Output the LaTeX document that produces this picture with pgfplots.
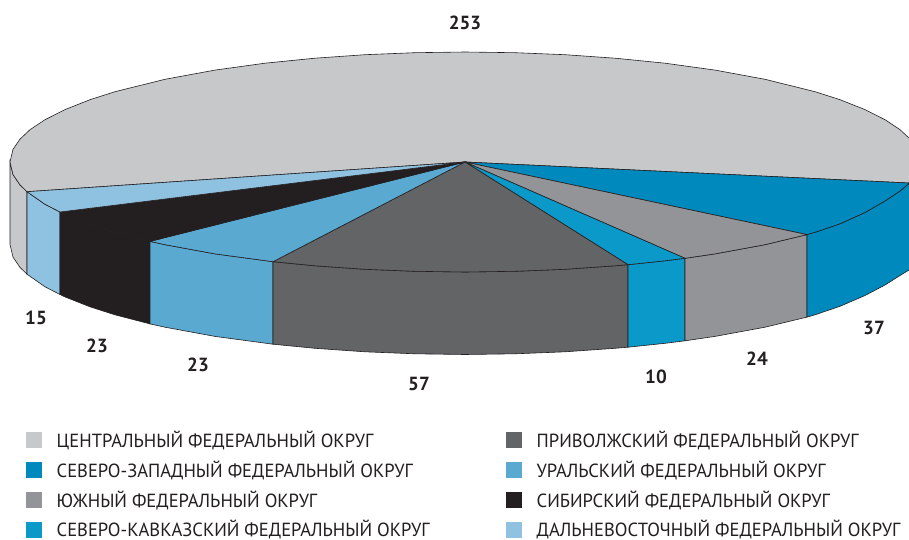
\documentclass[border=0pt]{standalone}
\usepackage{pgfplots}
\pgfplotsset{compat=1.18}
\usepackage{fontspec}
\setmainfont{PT Sans}
\newfontfamily\lf[FakeStretch=0.975]{PT Sans}
\definecolor{cC}{HTML}{C7C8CA}
\definecolor{cNW}{HTML}{0089BD}
\definecolor{cS}{HTML}{929497}
\definecolor{cNK}{HTML}{0A99C9}
\definecolor{cP}{HTML}{636466}
\definecolor{cU}{HTML}{59A9D1}
\definecolor{cSb}{HTML}{231F20}
\definecolor{cD}{HTML}{8FC1E0}
\newcommand{\lgt}[1]{{\lf\fontsize{19pt}{22pt}\selectfont #1}}
\newcommand{\vl}[1]{{\fontsize{19pt}{22pt}\selectfont\bfseries #1}}
\begin{document}
\begin{tikzpicture}
\begin{axis}[
  scale only axis, width=909pt, height=540pt,
  xmin=0, xmax=909, ymin=0, ymax=540, y dir=reverse,
  ticks=none, axis line style={draw=none},
  every axis plot/.append style={mark=none, line width=0.6pt, draw=cSb},
]
% walls
\addplot[fill=cC] coordinates {(10,162)(13,174.6)(20,184.9)(27,191.7)(27,274.2)(20,267.4)(13,257.1)(10,244.5)} --cycle;
\addplot[fill=cD] coordinates {(27,191.7)(45,204.3)(60,212)(60,294.5)(45,286.8)(27,274.2)} --cycle;
\addplot[fill=cSb] coordinates {(60,212)(65,214.4)(90,224.3)(115,232.3)(150,241.4)(150,323.9)(115,314.8)(90,306.8)(65,296.9)(60,294.5)} --cycle;
\addplot[fill=cU] coordinates {(150,241.4)(165,244.7)(215,253.9)(273,261.7)(273,344.2)(215,336.4)(165,327.2)(150,323.9)} --cycle;
\addplot[fill=cP] coordinates {(273,261.7)(315,265.8)(365,269.3)(415,271.3)(465,272)(515,271.3)(565,269.3)(615,265.8)(628,264.7)(628,347.2)(615,348.3)(565,351.8)(515,353.8)(465,354.5)(415,353.8)(365,351.8)(315,348.3)(273,344.2)} --cycle;
\addplot[fill=cNK] coordinates {(628,264.7)(665,260.8)(685,258.3)(685,340.8)(665,343.3)(628,347.2)} --cycle;
\addplot[fill=cS] coordinates {(685,258.3)(715,253.9)(765,244.7)(807,234.6)(807,317.1)(765,327.2)(715,336.4)(685,340.8)} --cycle;
\addplot[fill=cNW] coordinates {(807,234.6)(815,232.3)(840,223.8)(865,212.5)(885,201)(900,191)(909,183.5)(930,170)(930,270)(909,270)(900,275.5)(885,285)(865,295.5)(840,306.3)(815,314.8)(807,317.1)} --cycle;
% top
\addplot[fill=cC] coordinates {(465,162)(930,184)(930,138)(909,138)(900,129.7)(885,119.7)(865,109.6)(840,99.7)(815,91.7)(765,79.3)(715,70.1)(665,63.2)(615,58.2)(565,54.7)(515,52.7)(465,52)(415,52.7)(365,54.7)(315,58.2)(265,63.2)(215,70.1)(165,79.3)(115,91.7)(90,99.7)(65,109.6)(45,119.7)(30,129.7)(20,139.1)(13,149.4)(10,162)(13,174.6)(20,184.9)(27,191.7)} --cycle;
\addplot[fill=cNW] coordinates {(465,162)(807,234.6)(815,232.3)(840,223.8)(865,212.5)(885,201)(900,191)(909,183.5)(930,184)} --cycle;
\addplot[fill=cS] coordinates {(465,162)(685,258.3)(715,253.9)(765,244.7)(807,234.6)} --cycle;
\addplot[fill=cNK] coordinates {(465,162)(628,264.7)(665,260.8)(685,258.3)} --cycle;
\addplot[fill=cP] coordinates {(465,162)(273,261.7)(315,265.8)(365,269.3)(415,271.3)(465,272)(515,271.3)(565,269.3)(615,265.8)(628,264.7)} --cycle;
\addplot[fill=cU] coordinates {(465,162)(150,241.4)(165,244.7)(215,253.9)(273,261.7)} --cycle;
\addplot[fill=cSb] coordinates {(465,162)(60,212)(65,214.4)(90,224.3)(115,232.3)(150,241.4)} --cycle;
\addplot[fill=cD] coordinates {(465,162)(27,191.7)(45,204.3)(60,212)} --cycle;
% legend squares
\addplot[fill=cC,draw=none] coordinates {(26,432)(42,432)(42,448)(26,448)} --cycle;
\addplot[fill=cNW,draw=none] coordinates {(26,462)(42,462)(42,478)(26,478)} --cycle;
\addplot[fill=cS,draw=none] coordinates {(26,492)(42,492)(42,508)(26,508)} --cycle;
\addplot[fill=cNK,draw=none] coordinates {(26,522)(42,522)(42,538)(26,538)} --cycle;
\addplot[fill=cP,draw=none] coordinates {(506,432)(522,432)(522,448)(506,448)} --cycle;
\addplot[fill=cU,draw=none] coordinates {(506,462)(522,462)(522,478)(506,478)} --cycle;
\addplot[fill=cSb,draw=none] coordinates {(506,492)(522,492)(522,508)(506,508)} --cycle;
\addplot[fill=cD,draw=none] coordinates {(506,522)(522,522)(522,538)(506,538)} --cycle;
% legend text
\node[anchor=west,inner sep=0pt,text=cSb] at (axis cs:56.5,440) {\lgt{ЦЕНТРАЛЬНЫЙ ФЕДЕРАЛЬНЫЙ ОКРУГ}};
\node[anchor=west,inner sep=0pt,text=cSb] at (axis cs:56.5,470) {\lgt{СЕВЕРО-ЗАПАДНЫЙ ФЕДЕРАЛЬНЫЙ ОКРУГ}};
\node[anchor=west,inner sep=0pt,text=cSb] at (axis cs:56.5,500) {\lgt{ЮЖНЫЙ ФЕДЕРАЛЬНЫЙ ОКРУГ}};
\node[anchor=west,inner sep=0pt,text=cSb] at (axis cs:56.5,529.5) {\lgt{СЕВЕРО-КАВКАЗСКИЙ ФЕДЕРАЛЬНЫЙ ОКРУГ}};
\node[anchor=west,inner sep=0pt,text=cSb] at (axis cs:536.5,440) {\lgt{ПРИВОЛЖСКИЙ ФЕДЕРАЛЬНЫЙ ОКРУГ}};
\node[anchor=west,inner sep=0pt,text=cSb] at (axis cs:536.5,470) {\lgt{УРАЛЬСКИЙ ФЕДЕРАЛЬНЫЙ ОКРУГ}};
\node[anchor=west,inner sep=0pt,text=cSb] at (axis cs:536.5,500) {\lgt{СИБИРСКИЙ ФЕДЕРАЛЬНЫЙ ОКРУГ}};
\node[anchor=west,inner sep=0pt,text=cSb] at (axis cs:536.5,529.5) {\lgt{ДАЛЬНЕВОСТОЧНЫЙ ФЕДЕРАЛЬНЫЙ ОКРУГ}};
% values
\node[text=cSb] at (axis cs:465,23) {\vl{253}};
\node[text=cSb] at (axis cs:874,328) {\vl{37}};
\node[text=cSb] at (axis cs:757,359) {\vl{24}};
\node[text=cSb] at (axis cs:656,377) {\vl{10}};
\node[text=cSb] at (axis cs:419,384) {\vl{57}};
\node[text=cSb] at (axis cs:198,365) {\vl{23}};
\node[text=cSb] at (axis cs:97,346) {\vl{23}};
\node[text=cSb] at (axis cs:36,318) {\vl{15}};
\end{axis}
\end{tikzpicture}
\end{document}
